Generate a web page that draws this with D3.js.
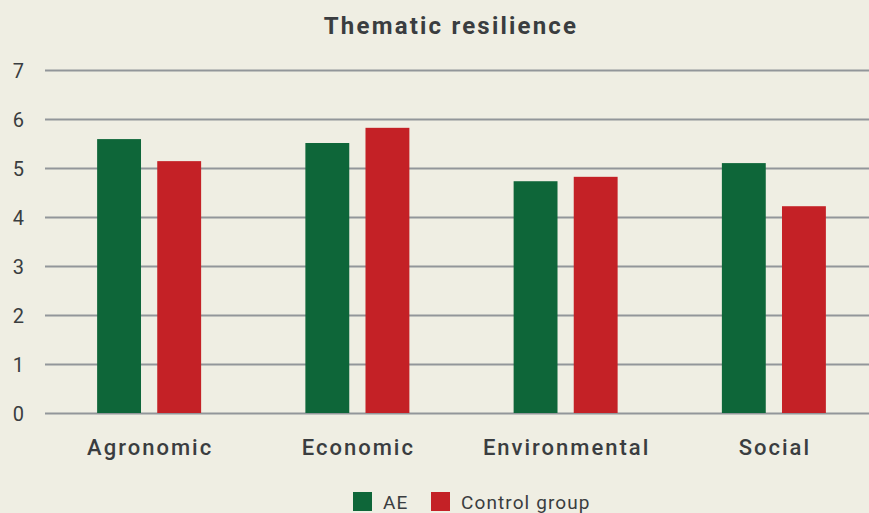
<!DOCTYPE html>
<html><head><meta charset="utf-8">
<script src="https://cdn.jsdelivr.net/npm/d3@7"></script>
<style>
html,body{margin:0;padding:0;background:#efeee3;}
text{font-family:Roboto,"Noto Sans",sans-serif;fill:#3a3d40;}
</style></head>
<body>
<svg id="chart" width="869" height="513"></svg>
<script>
const categories = ["Agronomic","Economic","Environmental","Social"];
const seriesNames = ["AE","Control group"];
const aeValues = [5.59, 5.51, 4.73, 5.10];
const controlValues = [5.14, 5.82, 4.82, 4.22];
const yTicks = [0,1,2,3,4,5,6,7];
const colors = ["#0e6639","#c42126"];

const svg = d3.select("#chart");
const W = 869, H = 513;
svg.append("rect").attr("width",W).attr("height",H).attr("fill","#efeee3");

const x = d3.scaleBand().domain(categories).range([45, 878]).paddingInner(0).paddingOuter(0);
const xs = d3.scaleBand().domain(seriesNames).range([0, 104]).paddingInner(0.27);
const y = d3.scaleLinear().domain([0,7]).range([413, 70]);

// title
svg.append("text").attr("x",451).attr("y",34).attr("text-anchor","middle")
  .attr("font-size",24).attr("font-weight",700).attr("letter-spacing",2.2).text("Thematic resilience");

// grid
const yAxis = d3.axisLeft(y).tickValues(yTicks).tickSize(-(W-45)).tickFormat(d3.format("d"));
const gy = svg.append("g").attr("transform","translate(45,0)").call(yAxis);
gy.select(".domain").remove();
gy.selectAll(".tick line").attr("stroke","#92969a").attr("stroke-width",2.2);
gy.selectAll(".tick text").attr("x",-21).attr("font-size",20).attr("fill","#3a3d40").attr("font-family","Roboto, sans-serif").attr("dy","0.35em");

// bars
const data = categories.map((c,i)=>({cat:c, vals:[aeValues[i], controlValues[i]]}));
const groups = svg.append("g").selectAll("g").data(data).join("g")
  .attr("transform",d=>`translate(${x(d.cat) + x.bandwidth()/2 - 52},0)`);
groups.selectAll("rect").data(d=>d.vals.map((v,j)=>({v, s:seriesNames[j], j})))
  .join("rect")
  .attr("x",d=>xs(d.s)).attr("width",xs.bandwidth())
  .attr("y",d=>y(d.v)).attr("height",d=>y(0)-y(d.v))
  .attr("fill",d=>colors[d.j]);

// x labels
const xAxis = d3.axisBottom(x).tickSize(0);
const gx = svg.append("g").attr("transform","translate(1,413)").call(xAxis);
gx.select(".domain").remove();
gx.selectAll(".tick text").attr("y",34).attr("dy","0.35em").attr("font-size",22).attr("font-weight",500)
  .attr("fill","#3a3d40").attr("font-family","Roboto, sans-serif").attr("letter-spacing",2.0);

// legend
const legend = svg.append("g");
const legendX = [353, 431];
seriesNames.forEach((s,i)=>{
  legend.append("rect").attr("x",legendX[i]).attr("y",492).attr("width",19).attr("height",19).attr("fill",colors[i]);
  legend.append("text").attr("x",legendX[i]+30).attr("y",502).attr("dy","0.35em").attr("font-size",19).attr("letter-spacing",1.1).text(s);
});
</script>
</body></html>
